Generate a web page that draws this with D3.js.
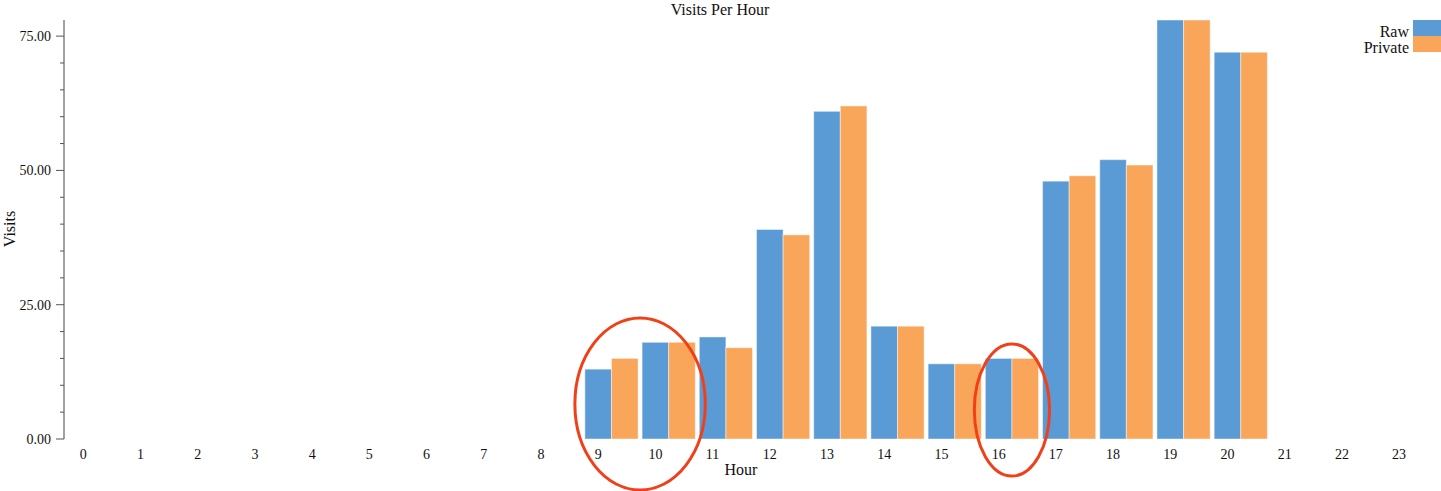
<!DOCTYPE html>
<html><head><meta charset="utf-8">
<script src="https://cdn.jsdelivr.net/npm/d3@7"></script>
<style>
html,body{margin:0;padding:0;background:#fff;}
text{font-family:"Liberation Serif","DejaVu Serif",serif;fill:#111;}
</style></head>
<body><svg id="c" width="1441" height="491"></svg>
<script>
const hours = d3.range(24).map(String);
const rawValues = [0,0,0,0,0,0,0,0,0,13,18,19,39,61,21,14,15,48,52,78,72,0,0,0];
const privateValues = [0,0,0,0,0,0,0,0,0,15,18,17,38,62,21,14,15,49,51,78,72,0,0,0];
const seriesNames = ["Raw","Private"];
const seriesColors = ["#5b9bd5","#f9a65b"];
const yTickValues = [0,25,50,75];
const highlightGroups = [["9","10"],["16"]];

const svg = d3.select("#c");
const plotTop = 20, plotBottom = 439, plotLeft = 64;

const x = d3.scaleBand().domain(hours).range([70, 1439]).paddingInner(0.07);
const xs = d3.scaleBand().domain(seriesNames).range([0, x.bandwidth()]);
const y = d3.scaleLinear().domain([0, d3.max(rawValues.concat(privateValues))]).range([plotBottom, plotTop]);

// y axis
const yAxis = svg.append("g").attr("transform",`translate(${plotLeft},0)`);
yAxis.append("line").attr("x1",0).attr("x2",0).attr("y1",plotTop).attr("y2",plotBottom).attr("stroke","#444");
const minor = d3.range(0, 79, 5).filter(v => v % 25 !== 0);
yAxis.selectAll(".mn").data(minor).enter().append("line")
  .attr("x1",-4).attr("x2",0).attr("y1",d=>y(d)).attr("y2",d=>y(d)).attr("stroke","#555");
yAxis.selectAll(".mj").data(yTickValues).enter().append("line")
  .attr("x1",-8).attr("x2",0).attr("y1",d=>y(d)).attr("y2",d=>y(d)).attr("stroke","#555");
yAxis.selectAll(".tl").data(yTickValues).enter().append("text")
  .attr("x",-13).attr("y",d=>y(d)).attr("dy","0.35em").attr("text-anchor","end")
  .attr("font-size",14).text(d3.format(".2f"));

// x labels
svg.selectAll(".xl").data(hours).enter().append("text")
  .attr("x",d=>x(d)+xs("Raw")+xs.bandwidth()/2).attr("y",459)
  .attr("text-anchor","middle").attr("font-size",14).text(d=>d);

// bars
const series = [rawValues, privateValues];
series.forEach((vals, si) => {
  svg.append("g").selectAll("rect").data(hours.map((h,i)=>({h, v: vals[i]})).filter(d=>d.v>0))
    .enter().append("rect")
    .attr("x",d=>x(d.h)+xs(seriesNames[si]))
    .attr("width",xs.bandwidth())
    .attr("y",d=>y(d.v))
    .attr("height",d=>y(0)-y(d.v))
    .attr("fill",seriesColors[si])
    .attr("stroke","#fff").attr("stroke-opacity",0.45).attr("stroke-width",1);
});

// title and axis labels
svg.append("text").attr("x",720).attr("y",15).attr("text-anchor","middle").attr("font-size",16).text("Visits Per Hour");
svg.append("text").attr("x",741).attr("y",475).attr("text-anchor","middle").attr("font-size",16).text("Hour");
svg.append("text").attr("transform","translate(15,229) rotate(-90)").attr("text-anchor","middle").attr("font-size",16).text("Visits");

// legend
const lg = svg.append("g");
seriesNames.forEach((n,i)=>{
  lg.append("rect").attr("x",1413).attr("y",20+i*16).attr("width",28).attr("height",16).attr("fill",seriesColors[i]);
  lg.append("text").attr("x",1409).attr("y",31+i*16).attr("dy","0.35em").attr("text-anchor","end").attr("font-size",16).text(n);
});

// highlight ellipses
const ellipseSpecs = [{g: highlightGroups[0], cy: 404, padX: 10, ry: 86},{g: highlightGroups[1], cy: 410, padX: 11, ry: 66}];
ellipseSpecs.forEach(s=>{
  const x0 = x(s.g[0]), x1 = x(s.g[s.g.length-1]) + x.bandwidth();
  const cx = (x0+x1)/2, rx = (x1-x0)/2 + s.padX;
  svg.append("ellipse").attr("cx",cx).attr("cy",s.cy).attr("rx",rx).attr("ry",s.ry)
    .attr("fill","none").attr("stroke","#f0401a").attr("stroke-width",3);
});
</script></body></html>
